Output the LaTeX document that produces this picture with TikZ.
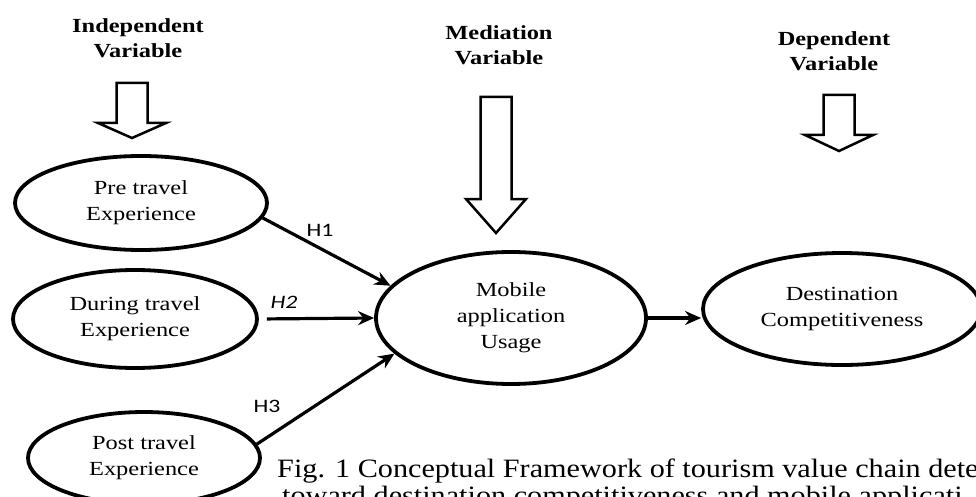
\documentclass[tikz,border=0pt]{standalone}
\usepackage{fontspec}
\usetikzlibrary{shapes.geometric,arrows.meta}

\newfontfamily\lblfont[FakeStretch=1.22]{Liberation Serif}
\newfontfamily\capfont[FakeStretch=1.14]{Liberation Serif}
\newfontfamily\hypfont[FakeStretch=1.25]{Carlito}

\tikzset{
  construct/.style={draw, ellipse, line width=3.8pt, inner sep=0pt, align=center,
    font=\lblfont\fontsize{20}{26}\selectfont},
  heading/.style={align=center, font=\lblfont\bfseries\fontsize{20}{25}\selectfont},
  hyp/.style={font=\hypfont\fontsize{19}{22}\selectfont},
  path/.style={line width=3.2pt, -{Stealth[length=16pt,width=14pt]}},
  hollow/.style={draw, line width=2.5pt, fill=white, line join=miter},
  caption/.style={anchor=base west, inner sep=0pt, font=\capfont\fontsize{26.5}{30}\selectfont}
}

\begin{document}
\begin{tikzpicture}[x=1pt,y=-1pt]
  \useasboundingbox (0,0) rectangle (976,497);
  \clip (0,0) rectangle (976,497);

  % headings
  \node[heading] (ind) at (138,38) {Independent\\Variable};
  \node[heading] (med) at (499,45) {Mediation\\Variable};
  \node[heading] (dep) at (834,51) {Dependent\\Variable};

  % hollow arrows under the headings
  \foreach \cx/\ytop/\sh/\tip/\hw in {132/83/123/138/34, 496/97/199/233/30, 839/95/135/151/34}
    \draw[hollow] (\cx-15.5,\ytop) -- (\cx+15.5,\ytop) -- (\cx+15.5,\sh) -- (\cx+\hw,\sh)
      -- (\cx,\tip) -- (\cx-\hw,\sh) -- (\cx-15.5,\sh) -- cycle;

  % constructs
  \node[construct, minimum width=252pt, minimum height=94pt] (pre) at (141,203) {Pre travel\\Experience};
  \node[construct, minimum width=244pt, minimum height=98pt] (dur) at (135,319) {During travel\\Experience};
  \node[construct, minimum width=232pt, minimum height=92pt] (post) at (144,458) {Post travel\\Experience};
  \node[construct, minimum width=270pt, minimum height=132pt] (mob) at (511,318) {Mobile\\application\\Usage};
  \node[construct, minimum width=278pt, minimum height=112pt] (dest) at (842,309) {Destination\\Competitiveness};

  % hypotheses
  \draw[path] (pre.-7) -- (mob.165);
  \draw[path, shorten <=8pt] (dur.east) -- (mob.west);
  \draw[path] (post.7) -- (mob.197);
  \draw[path] (mob.east) -- (mob.east -| dest.west);

  \node[hyp] (h1) at (320,230) {H1};
  \node[hyp] (h2) at (284,302) {\itshape H2};
  \node[hyp] (h3) at (267,406) {H3};

  % caption
  \node[caption] (cap1) at (277,477) {Fig. 1 Conceptual Framework of tourism value chain dete};
  \node[caption] (cap2) at (282,504) {toward destination competitiveness and mobile applicati};
\end{tikzpicture}
\end{document}
